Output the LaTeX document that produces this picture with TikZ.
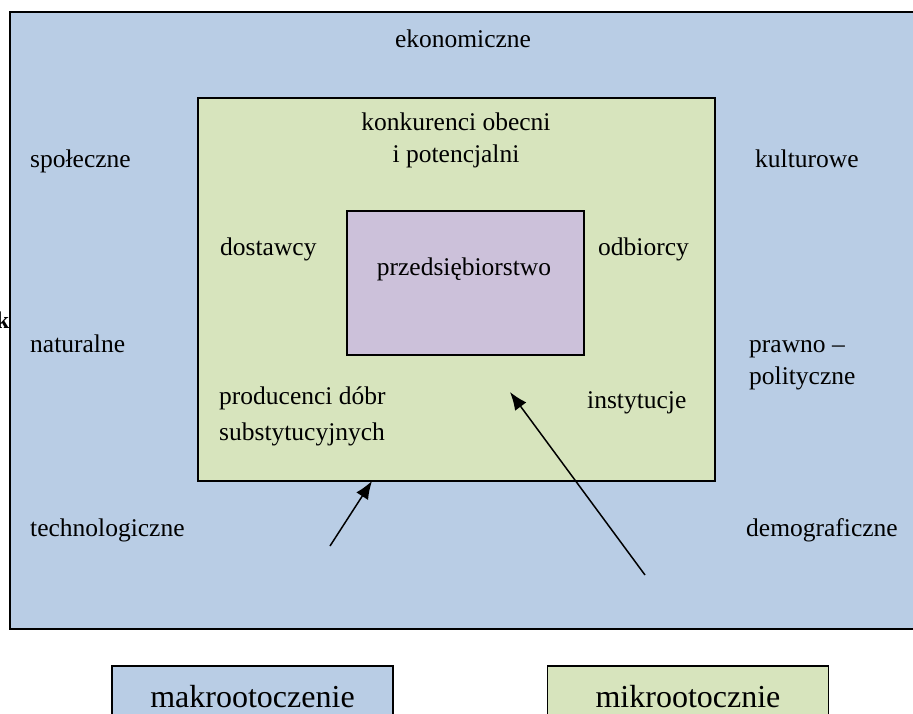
\documentclass[tikz,border=0pt]{standalone}
\usepackage{fontspec}
\setmainfont{Liberation Serif}
\usetikzlibrary{arrows.meta,positioning}
\definecolor{makro}{HTML}{B9CDE5}
\definecolor{mikro}{HTML}{D7E4BD}
\definecolor{firma}{HTML}{CCC1DA}

\begin{document}
\begin{tikzpicture}[x=1pt, y=-1pt, >={Latex[length=18pt,width=14pt]},
  font=\fontsize{25.5}{32}\selectfont,
  area/.style={draw, line width=1.6pt, inner sep=0pt, anchor=north west},
  lab/.style={inner sep=0pt, anchor=base west, align=left},
  labc/.style={inner sep=0pt, anchor=base, align=center},
  legend/.style={draw, line width=1.6pt, inner sep=0pt, anchor=base,
    minimum width=281pt, text height=41pt, text depth=40pt,
    font=\fontsize{32}{36}\selectfont}]
  \clip (0,0) rectangle (913,714);
  % the three areas
  \node[area, fill=makro, minimum width=940pt, minimum height=617pt] (makro) at (9,11) {};
  \node[area, fill=mikro, minimum width=517pt, minimum height=383pt] (mikro) at (197,97) {};
  \node[area, fill=firma, minimum width=237pt, minimum height=144pt] (firma) at (346,210) {};
  \node[inner sep=0pt, anchor=base east, font=\fontsize{24}{24}\selectfont\bfseries] (k) at (9.5,328) {k};
  % macro factors
  \node[labc] (ekon) at (463,48) {ekonomiczne};
  \node[lab] (spol) at (30,168) {społeczne};
  \node[lab] (kult) at (755,168) {kulturowe};
  \node[lab] (natu) at (30,352) {naturalne};
  \node[lab] (praw) at (749,384) {prawno –\\polityczne};
  \node[lab] (tech) at (30,536) {technologiczne};
  \node[lab] (demo) at (746,536) {demograficzne};
  % micro factors (base of a two-line label is its last line)
  \node[labc] (konk) at (456,163) {konkurenci obecni\\i potencjalni};
  \node[lab] (dost) at (220,255) {dostawcy};
  \node[lab] (odbi) at (598,255) {odbiorcy};
  \node[lab, align=left] (prod) at (219,440) {producenci dóbr\\[4pt]substytucyjnych};
  \node[lab] (inst) at (587,408) {instytucje};
  \node[labc] (przed) at (464,275) {przedsiębiorstwo};
  % arrows
  \coordinate (a1) at (330,546);
  \coordinate (a1e) at (372,481);
  \coordinate (a2) at (645,575);
  \coordinate (a2e) at (510,392);
  \draw[->, line width=1.5pt] (a1) -- (a1e);
  \draw[->, line width=1.5pt] (a2) -- (a2e);
  % legend
  \node[legend, fill=makro] (legmakro) at (252.5,707) {makrootoczenie};
  \node[legend, fill=mikro] (legmikro) at (688,707) {mikrootocznie};
\end{tikzpicture}
\end{document}
